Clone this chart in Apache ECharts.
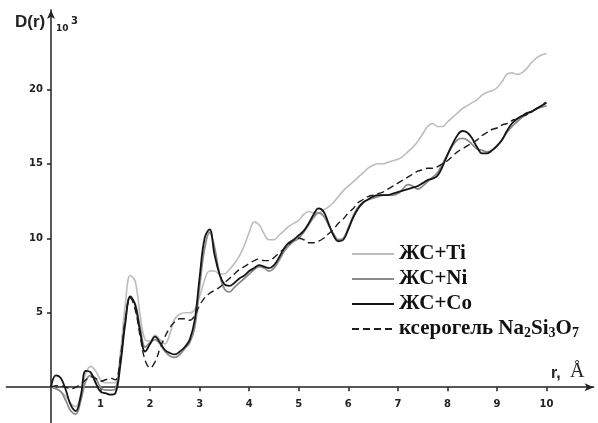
<!DOCTYPE html>
<html><head><meta charset="utf-8">
<script src="https://cdn.jsdelivr.net/npm/echarts@6/dist/echarts.min.js"></script>
<style>html,body{margin:0;padding:0;background:#fff}#c{width:598px;height:423px}</style>
</head><body><div id="c"></div>
<script>
const r = [0,0.1,0.2,0.3,0.4,0.5,0.6,0.7,0.8,0.9,1,1.1,1.2,1.3,1.4,1.5,1.6,1.7,1.8,1.9,2,2.1,2.2,2.3,2.4,2.5,2.6,2.7,2.8,2.9,3,3.1,3.2,3.3,3.4,3.5,3.6,3.7,3.8,3.9,4,4.1,4.2,4.3,4.4,4.5,4.6,4.7,4.8,4.9,5,5.1,5.2,5.3,5.4,5.5,5.6,5.7,5.8,5.9,6,6.1,6.2,6.3,6.4,6.5,6.6,6.7,6.8,6.9,7,7.1,7.2,7.3,7.4,7.5,7.6,7.7,7.8,7.9,8,8.1,8.2,8.3,8.4,8.5,8.6,8.7,8.8,8.9,9,9.1,9.2,9.3,9.4,9.5,9.6,9.7,9.8,9.9,10];

const dTi = [0,-0.1,-0.3,-0.6,-1.1,-1.3,-0.5,0.9,1.4,1.1,0.5,0.3,0.3,0.3,2.3,5.6,7.5,7.1,4.8,3.2,3.1,3.5,3.2,2.9,3.6,4.6,4.9,5.0,5.0,5.2,6.1,7.2,7.8,7.8,7.6,7.6,7.9,8.3,8.8,9.5,10.4,11.1,10.9,10.3,9.9,9.9,10.2,10.5,10.8,11.0,11.2,11.6,11.8,11.7,11.7,11.9,12.1,12.4,12.8,13.2,13.5,13.8,14.1,14.4,14.7,14.9,15.0,15.0,15.1,15.2,15.3,15.5,15.8,16.1,16.5,17.0,17.5,17.7,17.5,17.5,17.8,18.1,18.4,18.7,18.9,19.1,19.3,19.6,19.8,19.9,20.1,20.5,21.0,21.1,21.0,21.1,21.4,21.8,22.1,22.3,22.4];

const dNi = [0,-0.1,-0.3,-0.9,-1.6,-1.8,-0.9,0.4,0.8,0.6,0.0,-0.2,-0.2,-0.1,1.8,4.5,6.0,5.6,4.0,2.7,3.0,3.2,2.9,2.4,2.1,2.0,2.2,2.6,3.0,4.0,6.8,9.3,10.4,9.4,7.6,6.6,6.4,6.7,7.0,7.3,7.6,7.9,8.1,8.0,7.8,8.0,8.5,9.1,9.5,9.8,10.0,10.4,10.9,11.4,11.7,11.5,10.9,10.3,9.9,10.0,10.7,11.5,12.1,12.4,12.6,12.7,12.8,12.9,12.9,12.9,13.0,13.3,13.6,13.5,13.3,13.5,13.8,14.1,14.4,15.0,15.6,16.2,16.6,16.7,16.6,16.3,16.0,15.9,15.8,15.9,16.2,16.6,17.1,17.5,17.8,18.1,18.3,18.5,18.7,18.8,18.9];

const dCo = [0,0.8,0.6,-0.2,-1.2,-1.6,-0.6,1.1,1.0,0.3,-0.3,-0.4,-0.5,-0.4,1.5,4.3,6.1,5.5,3.7,2.4,2.9,3.4,3.0,2.5,2.3,2.2,2.4,2.7,3.2,4.5,7.4,10.0,10.6,8.9,7.6,6.9,6.8,7.0,7.3,7.5,7.8,8.0,8.2,8.1,8.0,8.2,8.7,9.3,9.7,9.9,10.2,10.5,11.0,11.6,12.0,11.8,11.0,10.2,9.8,9.9,10.6,11.4,12.0,12.4,12.6,12.8,12.9,12.9,12.9,13.0,13.1,13.2,13.3,13.4,13.5,13.7,13.9,14.0,14.2,14.8,15.6,16.3,16.9,17.2,17.1,16.7,16.1,15.7,15.7,15.9,16.2,16.6,17.2,17.7,18.0,18.2,18.4,18.5,18.7,18.9,19.1];

const dXero = [0,0.1,0.1,0.0,-0.1,0.0,0.2,0.5,0.7,0.6,0.4,0.5,0.6,0.5,2.0,4.6,6.0,5.2,3.4,1.8,1.3,1.7,2.6,3.4,4.0,4.4,4.6,4.6,4.5,4.8,5.5,6.0,6.3,6.5,6.7,7.0,7.3,7.6,7.9,8.1,8.3,8.5,8.6,8.5,8.5,8.7,9.0,9.3,9.6,9.9,10.0,9.9,9.7,9.7,9.8,10.0,10.3,10.6,11.0,11.3,11.7,12.0,12.4,12.6,12.8,12.9,13.0,13.1,13.3,13.5,13.7,13.9,14.1,14.3,14.5,14.6,14.7,14.7,14.8,15.0,15.2,15.5,15.8,16.0,16.2,16.4,16.6,16.9,17.1,17.3,17.4,17.6,17.7,17.9,18.0,18.2,18.3,18.5,18.7,18.9,19.2];

const xTicks = [1,2,3,4,5,6,7,8,9,10];
const yTicks = [5,10,15,20];
const seriesNames = ['ЖС+Ti','ЖС+Ni','ЖС+Co','ксерогель Na2Si3O7'];

function pairs(v){ return r.map((x,i)=>[x,v[i]]); }

const axisCol = '#222';
const tickFont = {fontFamily:'DejaVu Sans',fontWeight:'bold',fontSize:10,color:'#222'};
const X_MIN=-0.9, X_MAX=10.95, Y_MIN=-2.4, Y_MAX=25.32;
const G_LEFT=6.4, G_RIGHT=4.4, G_TOP=10, G_BOTTOM=0;
const W=598, H=423;
const pxX=(W-G_LEFT-G_RIGHT)/(X_MAX-X_MIN), pxY=(H-G_TOP-G_BOTTOM)/(Y_MAX-Y_MIN);

const chart = echarts.init(document.getElementById('c'), null, {renderer:'canvas'});
chart.setOption({
  animation:false,
  backgroundColor:'#fff',
  grid:[
    {left:G_LEFT,right:G_RIGHT,top:G_TOP,bottom:G_BOTTOM,containLabel:false,outerBoundsMode:'none'},
    {left:G_LEFT-X_MIN*pxX,right:G_RIGHT,top:G_TOP,bottom:G_BOTTOM-Y_MIN*pxY,containLabel:false,outerBoundsMode:'none'}
  ],
  xAxis:[{
    gridIndex:0,type:'value',min:X_MIN,max:X_MAX,
    axisLine:{onZero:true,lineStyle:{color:axisCol,width:1.5},symbol:['none','arrow'],symbolSize:[6,9]},
    axisTick:{show:true,customValues:xTicks,length:4,lineStyle:{color:axisCol,width:1.5}},
    axisLabel:{show:false},
    splitLine:{show:false}
  },{
    gridIndex:1,type:'value',min:0,max:X_MAX,
    axisLine:{show:false},axisTick:{show:false},
    axisLabel:Object.assign({customValues:xTicks,margin:12},tickFont),
    splitLine:{show:false}
  }],
  yAxis:[{
    gridIndex:0,type:'value',min:Y_MIN,max:Y_MAX,
    axisLine:{onZero:true,lineStyle:{color:axisCol,width:1.5},symbol:['none','arrow'],symbolSize:[6,9]},
    axisTick:{show:true,customValues:yTicks,length:4,lineStyle:{color:axisCol,width:1.5}},
    axisLabel:{show:false},
    splitLine:{show:false}
  },{
    gridIndex:1,type:'value',min:0,max:Y_MAX,
    axisLine:{show:false},axisTick:{show:false},
    axisLabel:Object.assign({customValues:yTicks,margin:8},tickFont),
    splitLine:{show:false}
  }],
  legend:{
    orient:'vertical',left:346,top:238,padding:5,itemWidth:42,itemHeight:12,itemGap:3,
    itemStyle:{opacity:0},
    data:seriesNames,
    formatter:n=>n.replace(/(\d)/g,'{sub|$1}'),
    textStyle:{fontFamily:'Liberation Serif',fontWeight:'bold',fontSize:21,color:'#111',lineHeight:22,
      rich:{sub:{fontFamily:'Liberation Serif',fontWeight:'bold',fontSize:14,color:'#111',lineHeight:8,verticalAlign:'bottom'}}}
  },
  graphic:[
    {type:'text',left:15,top:14,style:{text:'D(r)',font:'bold 17px "Liberation Sans"',fill:'#222'}},
    {type:'text',left:56,top:24,style:{text:'10',font:'bold 9px "DejaVu Sans"',fill:'#222'}},
    {type:'text',left:71,top:16,style:{text:'3',font:'bold 10px "DejaVu Sans"',fill:'#222'}},
    {type:'text',left:551,top:366,style:{text:'r,',font:'bold 16px "Liberation Sans"',fill:'#222'}},
    {type:'text',left:570,top:362,style:{text:'Å',font:'20px "Liberation Serif"',fill:'#222'}}
  ],
  series:[
    {name:seriesNames[0],type:'line',xAxisIndex:0,yAxisIndex:0,data:pairs(dTi),smooth:0.4,symbol:'none',showSymbol:false,lineStyle:{color:'#bdbdbd',width:1.6},itemStyle:{color:'#bdbdbd'},z:2},
    {name:seriesNames[1],type:'line',xAxisIndex:0,yAxisIndex:0,data:pairs(dNi),smooth:0.4,symbol:'none',showSymbol:false,lineStyle:{color:'#8a8a8a',width:1.8},itemStyle:{color:'#8a8a8a'},z:3},
    {name:seriesNames[2],type:'line',xAxisIndex:0,yAxisIndex:0,data:pairs(dCo),smooth:0.4,symbol:'none',showSymbol:false,lineStyle:{color:'#151515',width:1.8},itemStyle:{color:'#151515'},z:4},
    {name:seriesNames[3],type:'line',xAxisIndex:0,yAxisIndex:0,data:pairs(dXero),smooth:0.4,symbol:'none',showSymbol:false,lineStyle:{color:'#1e1e1e',width:1.4,type:[7,4]},itemStyle:{color:'#1e1e1e'},z:5}
  ]
});
</script></body></html>
